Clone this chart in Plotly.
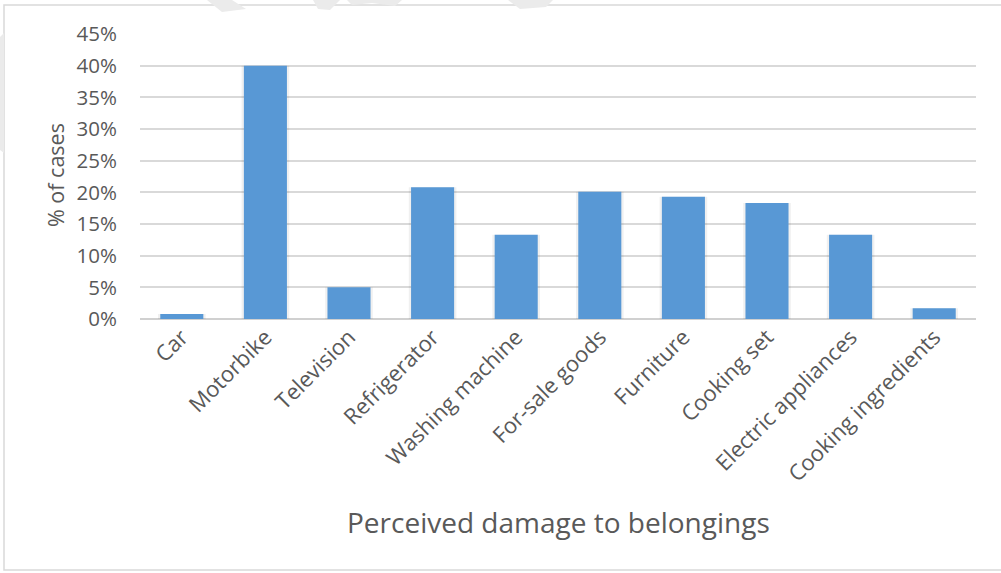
import plotly.graph_objects as go

categories = ["Car", "Motorbike", "Television", "Refrigerator", "Washing machine",
              "For-sale goods", "Furniture", "Cooking set", "Electric appliances",
              "Cooking ingredients"]
values = [0.008, 0.40, 0.05, 0.208, 0.133, 0.201, 0.193, 0.183, 0.133, 0.017]
y_ticks = [0, 0.05, 0.10, 0.15, 0.20, 0.25, 0.30, 0.35, 0.40, 0.45]
y_tick_labels = ["0%", "5%", "10%", "15%", "20%", "25%", "30%", "35%", "40%", "45%"]

W, H = 1001, 573
L, R, T, B = 140, 25, 34, 254
PW = W - L - R
PH = H - T - B

def px(x):
    return (x - L) / PW

def py(y):
    return (H - B - y) / PH

FONT = "Open Sans"
TXT = "#595959"

fig = go.Figure()
# soft shadow behind bars
fig.add_trace(go.Bar(x=categories, y=values, width=0.57,
                     marker=dict(color="rgba(0,0,0,0.06)", line=dict(width=0)),
                     hoverinfo="skip", showlegend=False))
fig.add_trace(go.Bar(x=categories, y=values, width=0.515,
                     marker=dict(color="#5898d5", line=dict(width=0)),
                     showlegend=False))

shapes = []
# outer border
shapes.append(dict(type="rect", xref="paper", yref="paper",
                   x0=px(4), x1=px(1010), y0=py(570), y1=py(5),
                   line=dict(color="#d9d9d9", width=1.5), fillcolor="rgba(0,0,0,0)", layer="below"))

# faint watermark fragments
def poly(pts):
    d = "M " + " L ".join(f"{px(a)},{py(b)}" for a, b in pts) + " Z"
    return dict(type="path", xref="paper", yref="paper", path=d,
                fillcolor="#ebebeb", line=dict(width=0), layer="below")

shapes.append(poly([(207, 0), (232, 0), (246, 9), (222, 12)]))
shapes.append(poly([(313, 0), (340, 0), (330, 10), (318, 9)]))
shapes.append(poly([(347, 0), (402, 0), (395, 6), (372, 3), (352, 5)]))
shapes.append(poly([(508, 0), (553, 0), (546, 7), (520, 9)]))
shapes.append(poly([(0, 37), (4, 33), (4, 153), (0, 150)]))

fig.update_layout(
    width=W, height=H,
    margin=dict(l=L, r=R, t=T, b=B),
    paper_bgcolor="white", plot_bgcolor="white",
    barmode="overlay",
    font=dict(family=FONT, color=TXT, size=20),
    shapes=shapes,
    xaxis=dict(type="category", tickangle=-45, showgrid=False, showline=False,
               ticks="", tickfont=dict(size=22, color=TXT, family=FONT), zeroline=False),
    yaxis=dict(range=[0, 0.45], tickvals=y_ticks, ticktext=y_tick_labels,
               showgrid=True, gridcolor="#d9d9d9", gridwidth=1.5,
               zeroline=True, zerolinecolor="#d0d0d0", zerolinewidth=2,
               ticks="", ticklabelstandoff=22, showline=False,
               tickfont=dict(size=20.5, color=TXT, family=FONT)),
    annotations=[
        dict(text="Perceived damage to belongings", xref="paper", yref="paper",
             x=px(558), y=py(522), showarrow=False, xanchor="center", yanchor="middle",
             font=dict(size=28, color=TXT, family=FONT)),
        dict(text="% of cases", xref="paper", yref="paper", textangle=-90,
             x=px(55), y=py(175), showarrow=False, xanchor="center", yanchor="middle",
             font=dict(size=21.5, color=TXT, family=FONT)),
    ],
)

fig.write_html("out.html")
